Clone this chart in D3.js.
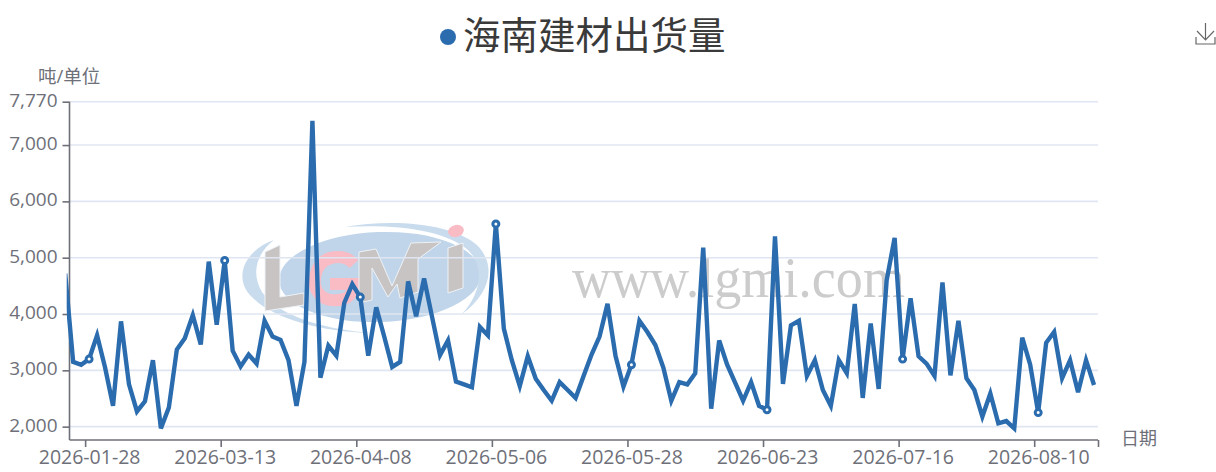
<!DOCTYPE html>
<html><head><meta charset="utf-8">
<script src="https://cdn.jsdelivr.net/npm/d3@7/dist/d3.min.js"></script>
<style>html,body{margin:0;padding:0;background:#fff;overflow:hidden}svg{display:block}
text{font-family:"Open Sans","Noto Sans CJK SC",sans-serif}</style></head><body>
<script>
const chartTitle = "海南建材出货量";
const yName = "吨/单位";
const xName = "日期";
const values = [4720,3150,3100,3200,3620,3050,2370,3870,2750,2270,2450,3180,1970,2340,3370,3570,3980,3460,4930,3810,4950,3350,3070,3280,3120,3880,3600,3540,3180,2370,3150,7430,2870,3440,3260,4200,4530,4300,3260,4120,3600,3060,3150,4580,3960,4630,3950,3270,3530,2800,2750,2700,3770,3620,5600,3740,3180,2720,3250,2850,2650,2460,2790,2650,2510,2900,3280,3600,4180,3260,2710,3100,3880,3680,3450,3050,2460,2790,2750,2950,5180,2320,3530,3100,2780,2460,2790,2370,2300,5380,2760,3800,3880,2900,3180,2650,2370,3180,2950,4180,2510,3830,2670,4600,5350,3200,4280,3250,3120,2900,4560,2910,3880,2860,2650,2180,2590,2060,2100,1970,3580,3100,2250,3490,3680,2860,3180,2610,3180,2740];
const tickLabels = ["2026-01-28","2026-03-13","2026-04-08","2026-05-06","2026-05-28","2026-06-23","2026-07-16","2026-08-10"];
const tickIndex = [3,20,37,54,71,88,105,122];
const yTicks = [2000,3000,4000,5000,6000,7000,7770];

const W=1216,H=472,plotL=69.5,plotR=1098,plotT=101.7,plotB=440;
const color="#2B6CAE",axisC="#6E7079",gridC="#E0E6F1";
const x=d3.scaleLinear().domain([-0.5,values.length-0.5]).range([61.2,1098]);
const y=d3.scaleLinear().domain([1763,7770]).range([plotB,plotT]);
const svg=d3.select("body").append("svg").attr("width",W).attr("height",H);

// watermark
const wm=svg.append("g");
wm.append("ellipse").attr("cx",380).attr("cy",277).attr("rx",101).attr("ry",45).attr("fill","#C0D5EA").attr("transform","rotate(-2 380 277)");
wm.append("path").attr("fill","#C9DCEE").attr("d","M274,240 C245,250 232,278 252,297 C272,318 320,332 372,333 C330,330 280,318 262,292 C250,272 258,252 274,240Z");
wm.append("path").attr("fill","#C9DCEE").attr("d","M345,227 C395,218 455,224 478,246 C498,268 488,295 462,314 C480,295 486,268 468,250 C445,230 395,224 345,227Z");
wm.append("ellipse").attr("cx",456).attr("cy",231).attr("rx",8).attr("ry",6).attr("fill","#F9BBC4").attr("transform","rotate(-15 456 231)");
const lg="#C7C4C3";
wm.append("path").attr("fill",lg).attr("stroke","#eef2f6").attr("stroke-width",1).attr("d","M265,252 L280,245 L280,297 L304,293 L304,305 L265,311Z");
wm.append("path").attr("fill","none").attr("stroke","#F9BBC4").attr("stroke-width",12).attr("d","M354,264 C345,254 324,254 317,270 C309,292 324,302 338,300 C348,299 353,295 353,284 L330,284");
wm.append("path").attr("fill",lg).attr("stroke","#eef2f6").attr("stroke-width",1).attr("d","M359,252 L376,249 L392,286 L411,243 L441,242 L418,259 L418,292 L400,298 L397,284 L388,297 L372,268 L372,300 L359,303Z");
wm.append("path").attr("fill",lg).attr("stroke","#eef2f6").attr("stroke-width",1).attr("d","M448,248 L463,243 L463,288 L448,293Z");
const wmText=wm.append("text").attr("font-size",56).attr("fill","#CCCCCC").style("font-family","'Liberation Serif',serif").text("www.lgmi.com");
wmText.attr("transform",`translate(572,297) scale(${333/wmText.node().getComputedTextLength()},1)`);

// grid
svg.append("g").selectAll("line").data(yTicks).join("line")
  .attr("x1",plotL).attr("x2",plotR).attr("y1",d=>y(d)).attr("y2",d=>y(d))
  .attr("stroke",gridC).attr("stroke-width",1.6);

// y axis
const yAxis=svg.append("g").attr("transform",`translate(${plotL},0)`)
  .call(d3.axisLeft(y).tickValues(yTicks).tickSize(7).tickPadding(5).tickFormat(d3.format(",")));
yAxis.selectAll("path").attr("d",`M0,${plotT}V${plotB}`).attr("stroke",axisC).attr("stroke-width",1.6);
yAxis.selectAll("line").attr("stroke",axisC).attr("stroke-width",1.6);
yAxis.selectAll("text").attr("fill",axisC).attr("font-size",19).attr("y",-1.5).style("font-family","'Open Sans',sans-serif");

// x axis: ticks at band edges, labels at band centres
const xTicks=svg.append("g").attr("transform",`translate(0,${plotB})`)
  .call(d3.axisBottom(x).tickValues([...tickIndex.map(i=>i-0.5),values.length-0.5]).tickSize(7).tickFormat(""));
xTicks.selectAll("path").attr("d",`M${plotL},0H${plotR}`).attr("stroke",axisC).attr("stroke-width",1.6);
xTicks.selectAll("line").attr("stroke",axisC).attr("stroke-width",1.6);
const xLabels=svg.append("g").attr("transform",`translate(0,${plotB})`)
  .call(d3.axisBottom(x).tickValues(tickIndex).tickSize(0).tickPadding(10).tickFormat((d,i)=>tickLabels[i]));
xLabels.select("path").remove();
xLabels.selectAll("text").attr("fill",axisC).attr("font-size",19.5).style("font-family","'Open Sans',sans-serif");

// line
svg.append("clipPath").attr("id","clip").append("rect").attr("x",66.7).attr("y",0).attr("width",plotR-66.7+2).attr("height",H);
const plot=svg.append("g").attr("clip-path","url(#clip)");
plot.append("path").datum(values)
  .attr("fill","none").attr("stroke",color).attr("stroke-width",4.4).attr("stroke-linejoin","miter").attr("stroke-miterlimit",4)
  .attr("d",d3.line().x((d,i)=>x(i)).y(d=>y(d)));
plot.selectAll("circle").data(tickIndex).join("circle")
  .attr("cx",i=>x(i)).attr("cy",i=>y(values[i])).attr("r",3)
  .attr("fill","#fff").attr("stroke",color).attr("stroke-width",3);

// names
svg.append("text").attr("x",38).attr("y",83).attr("font-size",18.5).attr("fill",axisC).text(yName);
svg.append("text").attr("x",1121).attr("y",445).attr("font-size",18).attr("fill",axisC).text(xName);

// title + legend dot
svg.append("circle").attr("cx",448).attr("cy",37).attr("r",8).attr("fill",color);
svg.append("text").attr("x",463).attr("y",49).attr("font-size",37.5).attr("fill","#3a3a3a").text(chartTitle);

// download icon
svg.append("path").attr("fill","none").attr("stroke","#666").attr("stroke-width",1.2)
  .attr("d","M1196,37V44H1215V37M1205.5,23V40M1197,31L1205.5,40L1214,31");
</script></body></html>
